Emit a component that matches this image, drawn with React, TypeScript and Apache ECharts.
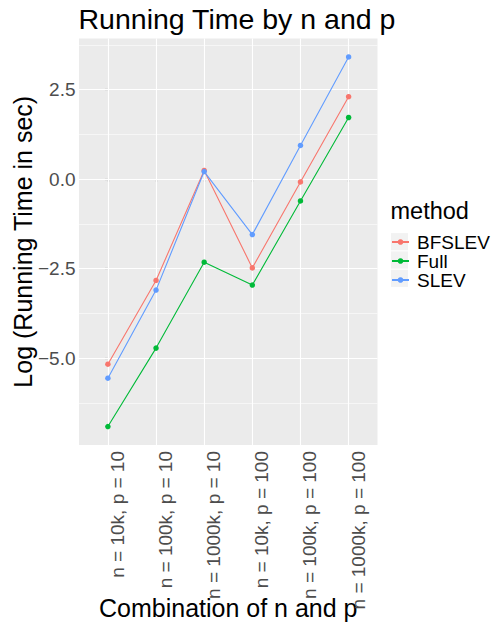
import React, { useEffect, useRef } from "react";
import * as echarts from "echarts";

const categories = [
  "n = 10k, p = 10",
  "n = 100k, p = 10",
  "n = 1000k, p = 10",
  "n = 10k, p = 100",
  "n = 100k, p = 100",
  "n = 1000k, p = 100",
];
const methods = ["BFSLEV", "Full", "SLEV"];
const bfslev = [-5.17, -2.83, 0.24, -2.48, -0.08, 2.3];
const full = [-6.91, -4.72, -2.32, -2.96, -0.61, 1.72];
const slev = [-5.56, -3.1, 0.21, -1.55, 0.94, 3.41];
const yTicks = [-5, -2.5, 0, 2.5];
const yMinorTicks = [-6.25, -3.75, -1.25, 1.25, 3.75];
const colors = ["#F8766D", "#00BA38", "#619CFF"];

const FONT = "Liberation Sans, Arial, Helvetica, sans-serif";

export default function App() {
  const ref = useRef<HTMLDivElement>(null);
  useEffect(() => {
    if (!ref.current) return;
    const chart = echarts.init(ref.current, undefined, { renderer: "svg" });
    const seriesValues = [bfslev, full, slev];
    const xIdx = categories.map((_, i) => i);
    const allVals = [...bfslev, ...full, ...slev];
    const dMin = Math.min(...allVals);
    const dMax = Math.max(...allVals);
    const pad = (dMax - dMin) * 0.05;
    const n = categories.length;

    const gridLines: any[] = [
      ...xIdx.map((i) => ({ xAxis: i, lineStyle: { width: 1.1 } })),
      ...yTicks.map((v) => ({ yAxis: v, lineStyle: { width: 1.1 } })),
      ...yMinorTicks.map((v) => ({ yAxis: v, lineStyle: { width: 0.55 } })),
    ];

    const keyCenters = [241.7, 260, 278.3];

    chart.setOption({
      animation: false,
      textStyle: { fontFamily: FONT },
      title: [
        {
          text: "Running Time by n and p",
          left: 78.5,
          top: 4,
          padding: 0,
          textStyle: { fontSize: 28.5, fontWeight: "normal", color: "#000", fontFamily: FONT },
        },
        {
          text: "method",
          left: 390.5,
          top: 199,
          padding: 0,
          textStyle: { fontSize: 23.5, fontWeight: "normal", color: "#000", fontFamily: FONT },
        },
      ],
      graphic: keyCenters.map((c) => ({
        type: "rect",
        shape: { x: 391, y: c - 8.6, width: 17, height: 17.2 },
        style: { fill: "#F2F2F2" },
        z: 0,
      })),
      legend: {
        orient: "vertical",
        left: 391,
        top: 232.5,
        padding: 0,
        itemGap: 0,
        itemWidth: 17,
        itemHeight: 7,
        selectedMode: false,
        data: methods,
        textStyle: {
          fontSize: 19,
          lineHeight: 18.3,
          color: "#000",
          fontFamily: FONT,
          padding: [0, 0, 0, 3],
        },
      },
      grid: {
        left: 79,
        right: 114.5,
        top: 38.5,
        bottom: 187,
        containLabel: false,
        outerBoundsMode: "none",
        show: true,
        backgroundColor: "#EBEBEB",
        borderWidth: 0,
      },
      xAxis: {
        type: "value",
        min: -0.6,
        max: n - 1 + 0.6,
        name: "Combination of n and p",
        nameLocation: "middle",
        nameGap: 150,
        nameMoveOverlap: false,
        nameTextStyle: { fontSize: 25, color: "#000", fontFamily: FONT },
        axisLine: { show: false },
        splitLine: { show: false },
        axisTick: {
          show: true,
          length: 3,
          customValues: xIdx,
          lineStyle: { color: "#333333", width: 1.1 },
        },
        axisLabel: {
          customValues: xIdx,
          rotate: 90,
          margin: 6,
          verticalAlign: "top",
          fontSize: 19,
          color: "#4D4D4D",
          fontFamily: FONT,
          formatter: (v: number) => categories[Math.round(v)] ?? "",
        },
      },
      yAxis: {
        type: "value",
        min: dMin - pad,
        max: dMax + pad,
        name: "Log (Running Time in sec)",
        nameLocation: "middle",
        nameGap: 44,
        nameMoveOverlap: false,
        nameTextStyle: { fontSize: 25, color: "#000", fontFamily: FONT },
        axisLine: { show: false },
        splitLine: { show: false },
        axisTick: {
          show: true,
          length: 3,
          customValues: yTicks,
          lineStyle: { color: "#333333", width: 1.1 },
        },
        axisLabel: {
          customValues: yTicks,
          margin: 3.5,
          fontSize: 19,
          color: "#4D4D4D",
          fontFamily: FONT,
          formatter: (v: number) => (v < 0 ? "\u2212" : "") + Math.abs(v).toFixed(1),
        },
      },
      series: [
        {
          name: "__grid",
          type: "line",
          data: [],
          silent: true,
          z: 1,
          markLine: {
            silent: true,
            z: 1,
            symbol: ["none", "none"],
            label: { show: false },
            emphasis: { disabled: true },
            lineStyle: { color: "#FFFFFF", type: "solid", width: 1.1 },
            data: gridLines,
          },
        },
        ...methods.map((m, k) => ({
          name: m,
          type: "line",
          z: 3,
          data: seriesValues[k].map((v, i) => [xIdx[i], v]),
          symbol: "circle",
          symbolSize: 5.5,
          showSymbol: true,
          color: colors[k],
          itemStyle: { color: colors[k] },
          lineStyle: { color: colors[k], width: 1.1 },
          emphasis: { disabled: true },
        })),
      ],
    });
    return () => chart.dispose();
  }, []);
  return (
    <div
      ref={ref}
      style={{ position: "fixed", left: 0, top: 0, width: 492, height: 632, background: "#fff" }}
    />
  );
}
